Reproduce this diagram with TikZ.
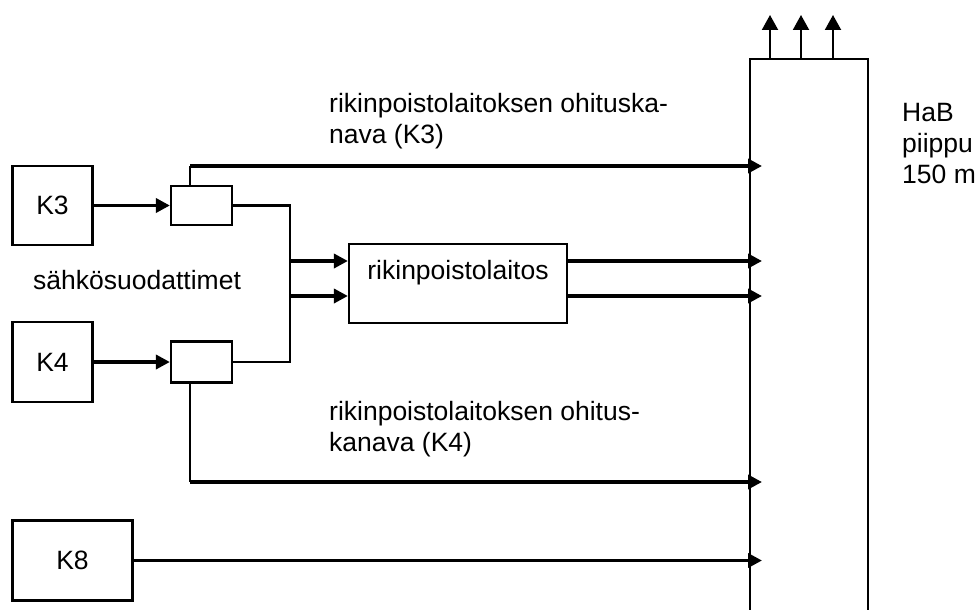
\documentclass[tikz,border=0pt]{standalone}
\usepackage{fontspec}
\setmainfont{Liberation Sans}
\usetikzlibrary{arrows.meta,positioning}

\begin{document}
\begin{tikzpicture}[x=1pt,y=-1pt,
        txt/.style={inner sep=0pt,align=left,font=\fontsize{26.5}{31}\selectfont},
        box/.style={draw,line width=2.2pt,inner sep=0pt,txt},
        flow/.style={line width=3.8pt,-{Triangle[length=14pt,width=14pt]}},
        pipe/.style={line width=2.1pt}]
        \clip (0,0) rectangle (977,610);
        \node [box,minimum width=80pt,minimum height=79pt] (k3) at (52.5,205.5) {K3};
        \node [box,minimum width=80pt,minimum height=80pt] (k4) at (52.5,362) {K4};
        \node [box,minimum width=120pt,minimum height=80pt] (k8) at (72.5,560.5) {K8};
        \node [box,minimum width=61pt,minimum height=39pt] (f3) at (201.5,205.5) {};
        \node [box,minimum width=61pt,minimum height=41pt] (f4) at (201.5,362) {};
        \node [box,minimum width=218pt,minimum height=79pt] (rpl) at (458,283.5) {};
        \node [txt,below=16.7pt of rpl.north] (rpltext) {rikinpoistolaitos};
        \node [txt,anchor=base west] (esp) at (33,289.5) {sähkösuodattimet};
        \node [txt,anchor=north west] (by3text) at (329,93) {rikinpoistolaitoksen ohituska-\\nava (K3)};
        \node [txt,anchor=north west] (by4text) at (329,401.5) {rikinpoistolaitoksen ohitus-\\kanava (K4)};
        \node [txt,anchor=north west] (stacktext) at (902,103.5) {HaB\\piippu\\150 m};
        % piippu
        \draw [line width=2.2pt] (750,620) |- (868,59) -- (868,620);
        \foreach \x in {770,801,833} {
            \draw [pipe,-{Triangle[length=15pt,width=16pt]}] (\x,59) -- (\x,15);
        }
        \coordinate (tip) at (762,0);
        \coordinate (s1) at (290,261);
        \coordinate (s2) at (290,296);
        \coordinate (b3) at (190,166);
        \coordinate (b4) at (190,482);
        \draw [flow] (k3) -- (f3);
        \draw [flow] (k4) -- (f4);
        \draw [pipe] (f3.east) -- (s1 |- f3.east) -- (s2 |- f4.east) -- (f4.east);
        \draw [flow] (s1) -- (s1 -| rpl.west);
        \draw [flow] (s2) -- (s2 -| rpl.west);
        \draw [flow] (s1 -| rpl.east) -- (s1 -| tip);
        \draw [flow] (s2 -| rpl.east) -- (s2 -| tip);
        \draw [pipe] (b3 |- f3.north) -- (b3);
        \draw [flow] (b3) -- (b3 -| tip);
        \draw [pipe] (b4 |- f4.south) -- (b4);
        \draw [flow] (b4) -- (b4 -| tip);
        \draw [flow] (k8) -- (k8 -| tip);
    \end{tikzpicture}
\end{document}
